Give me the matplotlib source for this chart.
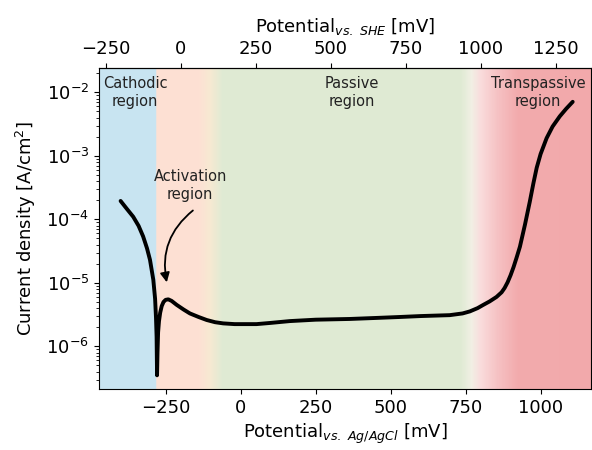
import numpy as np
import matplotlib
matplotlib.use("Agg")
import matplotlib.pyplot as plt
from matplotlib.colors import to_rgb

# ---- data ----
potential_mv = [-400, -380, -358, -340, -325, -312, -302, -291, -285, -282, -280, -278.5,
                -277, -275, -272, -268, -263, -257, -250, -241, -230, -213, -190, -169,
                -140, -113, -85, -58, -20, 20, 53, 100, 164, 250, 364, 450, 530, 600,
                697, 740, 764, 790, 809, 830, 853, 870, 880, 890, 900, 910, 920, 931, 948, 964,
                976, 987, 1000, 1020, 1040, 1064, 1085, 1107]
current_density = [1.95e-4, 1.48e-4, 1.10e-4, 7.9e-5, 5.4e-5, 3.5e-5, 2.3e-5, 1.12e-5, 5.6e-6, 2.8e-6, 1.41e-6, 3.5e-7,
                   7.9e-7, 1.66e-6, 2.5e-6, 3.4e-6, 4.3e-6, 5.0e-6, 5.4e-6, 5.5e-6, 5.2e-6, 4.5e-6, 3.8e-6, 3.3e-6,
                   2.9e-6, 2.6e-6, 2.4e-6, 2.3e-6, 2.24e-6, 2.24e-6, 2.24e-6, 2.34e-6, 2.5e-6, 2.63e-6, 2.7e-6, 2.8e-6, 2.9e-6, 3.0e-6,
                   3.1e-6, 3.3e-6, 3.55e-6, 4.0e-6, 4.5e-6, 5.1e-6, 6.0e-6, 7.1e-6, 8.3e-6, 1.02e-5, 1.32e-5, 1.78e-5, 2.5e-5, 3.7e-5, 8.3e-5, 1.9e-4,
                   3.7e-4, 6.5e-4, 1.07e-3, 1.9e-3, 2.9e-3, 4.2e-3, 5.5e-3, 7.1e-3]

region_labels = ["Cathodic\nregion", "Passive\nregion", "Transpassive\nregion"]
region_label_x = [-352, 370, 991]
activation_label = "Activation\nregion"

she_offset = 199  # mV, Ag/AgCl -> SHE
top_ticks = [-250, 0, 250, 500, 750, 1000, 1250]
bottom_ticks = [-250, 0, 250, 500, 750, 1000]

# background gradient nodes (mV, colour)
bg_nodes_x = [-480, -281, -279, -140, -100, -60, 735, 770, 800, 860, 925, 1200]
bg_nodes_c = ["#c8e4f1", "#c8e4f1", "#fde0d3", "#fde0d3", "#f6e9d2", "#dfead3",
              "#dfead3", "#f1efe4", "#f9dcdc", "#f5c0c2", "#f2aaac", "#f2a9ab"]

xmin, xmax = -472, 1168
ymin, ymax = 2.13e-7, 2.42e-2

fig = plt.figure(figsize=(5.92, 4.5), dpi=100)
ax = fig.add_axes([99 / 592, 1 - 389 / 450, (591 - 99) / 592, (389 - 68) / 450])
ax.set_yscale("log")
ax.set_xlim(xmin, xmax)
ax.set_ylim(ymin, ymax)

# gradient background
xe = np.linspace(xmin, xmax, 900)
xc = 0.5 * (xe[:-1] + xe[1:])
rgb_nodes = np.array([to_rgb(c) for c in bg_nodes_c])
cols = np.stack([np.interp(xc, bg_nodes_x, rgb_nodes[:, k]) for k in range(3)], axis=-1)
ax.pcolormesh(xe, [ymin, ymax], cols[np.newaxis, :, :], shading="flat",
              rasterized=True, zorder=0)

ax.plot(potential_mv, current_density, color="black", lw=2.8, zorder=3,
        solid_joinstyle="round", solid_capstyle="round")

ax.set_xticks(bottom_ticks)
ax.tick_params(axis="both", which="major", labelsize=13)
ax.set_xlabel(r"Potential$_{vs.\ Ag/AgCl}$ [mV]", fontsize=13, labelpad=4)
ax.set_ylabel(r"Current density [A/cm$^2$]", fontsize=13, labelpad=6)

sec = ax.secondary_xaxis("top", functions=(lambda x: x + she_offset, lambda x: x - she_offset))
sec.set_xticks(top_ticks)
sec.tick_params(labelsize=13)
sec.set_xlabel(r"Potential$_{vs.\ SHE}$ [mV]", fontsize=13, labelpad=6)

for lab, xv in zip(region_labels, region_label_x):
    ax.text(xv, 1e-2, lab, ha="center", va="center", fontsize=10.5,
            multialignment="center", color="#222222", zorder=4)

ax.text(-168, 3.4e-4, activation_label, ha="center", va="center", fontsize=10.5,
        multialignment="center", color="#222222", zorder=4)
ax.annotate("", xy=(-246, 1.02e-5), xytext=(-159, 1.38e-4),
            arrowprops=dict(arrowstyle="-|>", color="black", lw=1.3,
                            connectionstyle="arc3,rad=0.3", mutation_scale=14,
                            shrinkA=0, shrinkB=0), zorder=4)

fig.savefig("out.png", dpi=100)
